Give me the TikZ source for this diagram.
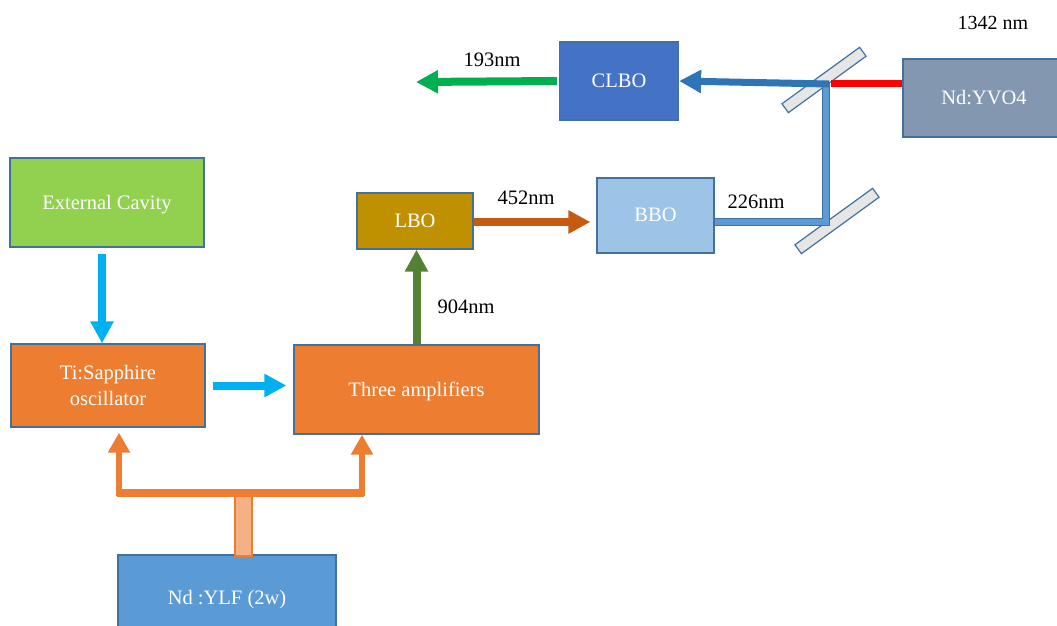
\documentclass[tikz,border=0pt]{standalone}
\usepackage{fontspec}
\setmainfont{Liberation Serif}
\usetikzlibrary{arrows.meta,calc}
\definecolor{bordc}{HTML}{41719C}
\definecolor{extc}{HTML}{92D050}
\definecolor{orc}{HTML}{ED7D31}
\definecolor{ylfc}{HTML}{5B9BD5}
\definecolor{lboc}{HTML}{BF9000}
\definecolor{bboc}{HTML}{9DC3E6}
\definecolor{clboc}{HTML}{4472C4}
\definecolor{yvoc}{HTML}{8497B0}
\definecolor{cyanc}{HTML}{00B0F0}
\definecolor{dgreen}{HTML}{548235}
\definecolor{brownc}{HTML}{C55A11}
\definecolor{lgreen}{HTML}{00B050}
\definecolor{darrow}{HTML}{2E75B6}
\definecolor{mirc}{HTML}{E7E6E6}
\definecolor{lorc}{HTML}{F4B183}
\tikzset{
  box/.style={rectangle, draw=bordc, line width=1.2pt, inner sep=0pt, text=white,
    font=\fontsize{20.5}{26}\selectfont, align=center, text depth=1pt},
  lab/.style={inner sep=0pt, text=black, font=\fontsize{20.5}{24}\selectfont},
  fatarrow/.style={line width=#1, -{Triangle[length=22pt,width=22pt]}},
  mirror/.style={rectangle, draw=bordc, line width=1.2pt, fill=mirc, minimum width=96pt, minimum height=11pt, inner sep=0pt},
  beam/.style={draw=bordc, line width=1.3pt, double=ylfc, double distance=5.5pt, line join=miter},
}
\begin{document}
\begin{tikzpicture}[x=1pt,y=-1pt]
\useasboundingbox (0,0) rectangle (1057,626);
% boxes
\node[box, fill=extc, minimum width=194pt, minimum height=89pt] (ext) at (107,202.5) {External Cavity};
\node[box, fill=orc, minimum width=194pt, minimum height=83pt] (ti) at (108,385.5) {Ti:Sapphire\\oscillator};
\node[box, fill=orc, minimum width=245pt, minimum height=89pt] (amp) at (416.5,389.5) {Three amplifiers};
\node[box, fill=ylfc, minimum width=218pt, minimum height=85pt] (ylf) at (227,597.5) {Nd :YLF (2w)};
\node[box, fill=lboc, minimum width=116pt, minimum height=56pt] (lbo) at (415,221) {LBO};
\node[box, fill=bboc, minimum width=117pt, minimum height=75pt] (bbo) at (655.5,215.5) {BBO};
\node[box, fill=clboc, minimum width=119pt, minimum height=78pt] (clbo) at (619,81) {CLBO};
\node[box, fill=yvoc, minimum width=162pt, minimum height=78pt] (yvo) at (984,98) {Nd:YVO4};
% mirrors
\node[mirror, rotate=36] (mir1) at (824,80) {};
\node[mirror, rotate=36] (mir2) at (837,221) {};
% beam coordinates
\coordinate (m1) at (826,83);
\coordinate (m2) at (826,222);
\coordinate (o193) at (416,82);
% beams
\draw[beam] (bbo.east |- m2) -- (m2) -- ($(m1)+(0,-1)$);
\draw[red, line width=7pt] (yvo.west |- m1) -- ($(m1)+(5,0)$);
\draw[darrow, fatarrow=7pt] ($(m1)+(3,1)$) -- (clbo.east);
\draw[lgreen, fatarrow=8pt] ([xshift=-2pt]clbo.west) -- (o193);
\draw[brownc, fatarrow=8pt] ([yshift=-1pt]lbo.east) -- ($([yshift=-1pt]lbo.east -| bbo.west)+(-6,0)$);
\draw[dgreen, fatarrow=8pt] (amp.north) -- (amp.north |- lbo.south);
\draw[cyanc, fatarrow=8pt] ([xshift=-5pt,yshift=-6pt]ext.south) -- ([xshift=-6pt]ti.north);
\draw[cyanc, fatarrow=8pt] ([xshift=7pt]ti.east) -- ($(ti.east -| amp.west)+(-7,0)$);
% pump
\node[rectangle, draw=orc, line width=1.3pt, fill=lorc, minimum width=17pt, minimum height=62pt, inner sep=0pt] (pb) at (243.5,525) {};
\coordinate (jl) at (119,493);
\coordinate (jr) at (362,493);
\draw[orc, line width=8pt] ($(jl)+(-2,0)$) -- ($(jr)+(2,0)$);
\draw[orc, fatarrow=6pt, -{Triangle[length=20pt,width=21pt]}] ($(jl)+(0,3)$) -- ($(jl |- ti.south)+(0,5)$);
\draw[orc, fatarrow=6pt, -{Triangle[length=20pt,width=21pt]}] ($(jr)+(0,3)$) -- (jr |- amp.south);
% labels
\node[lab] (l193) at (492,60) {193nm};
\node[lab] (l452) at (526,198) {452nm};
\node[lab] (l226) at (756,202) {226nm};
\node[lab] (l904) at (466,307) {904nm};
\node[lab, font=\fontsize{20}{24}\selectfont] (l1342) at (993,23) {1342 nm};
\end{tikzpicture}
\end{document}
